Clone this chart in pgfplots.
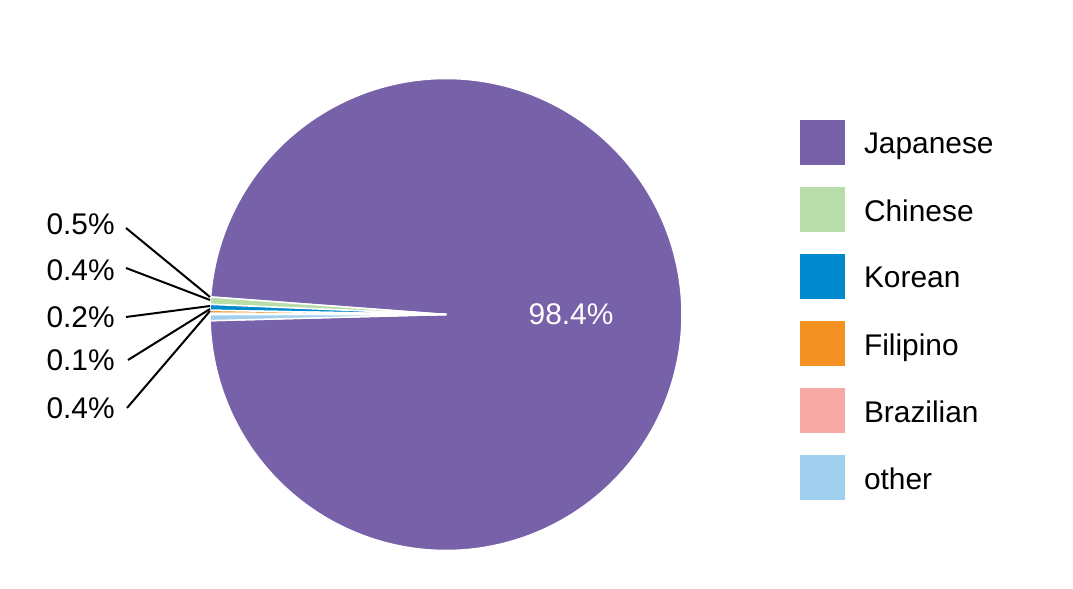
\documentclass[border=0pt]{standalone}
\usepackage{pgfplots}
\pgfplotsset{compat=1.18}
\usepackage{fontspec}
\setmainfont{Liberation Sans}
\definecolor{cJap}{RGB}{119,97,168}
\definecolor{cChi}{RGB}{184,221,168}
\definecolor{cKor}{RGB}{0,137,205}
\definecolor{cFil}{RGB}{243,146,34}
\definecolor{cBra}{RGB}{247,169,165}
\definecolor{cOth}{RGB}{160,208,238}
% shares in percent
\def\pJap{98.4}\def\pChi{0.5}\def\pKor{0.4}\def\pFil{0.2}\def\pBra{0.1}\def\pOth{0.4}
\pgfmathsetmacro{\aA}{181.5}
\pgfmathsetmacro{\aB}{\aA+\pJap*3.6}
\pgfmathsetmacro{\aC}{\aB+\pChi*3.6}
\pgfmathsetmacro{\aD}{\aC+\pKor*3.6}
\pgfmathsetmacro{\aE}{\aD+\pFil*3.6}
\pgfmathsetmacro{\aF}{\aE+\pBra*3.6}
\pgfmathsetmacro{\aG}{\aF+\pOth*3.6}
\newcommand{\bigfont}{\fontsize{30}{36}\selectfont}
\begin{document}
\begin{tikzpicture}
\path[use as bounding box] (0,0) rectangle (1073bp,589bp);
\begin{axis}[
  at={(0,0)}, anchor=south west,
  scale only axis, width=1073bp, height=589bp,
  xmin=0, xmax=1073, ymin=0, ymax=589,
  hide axis, clip=false,
  legend cell align=left,
  legend style={draw=none, fill=none, at={(axis cs:800,469)}, anchor=north west,
    inner sep=0pt, outer sep=0pt, row sep=22bp, column sep=19bp,
    font=\bigfont, nodes={inner sep=0pt}},
  legend image code/.code={\fill[#1, draw=none] (0bp,-21bp) rectangle (45bp,24bp);},
  every axis plot/.append style={line join=round},
]
\addplot[fill=cJap, draw=white, line width=1.5bp, domain=\aA:\aB, samples=300, variable=\t]
  ({446+236*cos(\t)},{274.5+236*sin(\t)}) -- (446,274.5) -- cycle;
\addlegendentry{Japanese}
\addplot[fill=cChi, draw=white, line width=1.5bp, domain=\aB:\aC, samples=5, variable=\t]
  ({446+236*cos(\t)},{274.5+236*sin(\t)}) -- (446,274.5) -- cycle;
\addlegendentry{Chinese}
\addplot[fill=cKor, draw=white, line width=1.5bp, domain=\aC:\aD, samples=5, variable=\t]
  ({446+236*cos(\t)},{274.5+236*sin(\t)}) -- (446,274.5) -- cycle;
\addlegendentry{Korean}
\addplot[fill=cFil, draw=white, line width=1.5bp, domain=\aD:\aE, samples=5, variable=\t]
  ({446+236*cos(\t)},{274.5+236*sin(\t)}) -- (446,274.5) -- cycle;
\addlegendentry{Filipino}
\addplot[fill=cBra, draw=white, line width=1.5bp, domain=\aE:\aF, samples=5, variable=\t]
  ({446+236*cos(\t)},{274.5+236*sin(\t)}) -- (446,274.5) -- cycle;
\addlegendentry{Brazilian}
\addplot[fill=cOth, draw=white, line width=1.5bp, domain=\aF:\aG, samples=5, variable=\t]
  ({446+236*cos(\t)},{274.5+236*sin(\t)}) -- (446,274.5) -- cycle;
\addlegendentry{other}
% leader lines and labels
\addplot[black, line width=2bp, forget plot] coordinates {(126,361) (210,292)}
  node[pos=0, anchor=east, xshift=-7bp, yshift=4bp, font=\bigfont]{0.5\%};
\addplot[black, line width=2bp, forget plot] coordinates {(126,321) (210,289)}
  node[pos=0, anchor=east, xshift=-7bp, yshift=-2bp, font=\bigfont]{0.4\%};
\addplot[black, line width=2bp, forget plot] coordinates {(126,272) (210,283)}
  node[pos=0, anchor=east, xshift=-7bp, font=\bigfont]{0.2\%};
\addplot[black, line width=2bp, forget plot] coordinates {(128,229) (210,280)}
  node[pos=0, anchor=east, xshift=-9bp, font=\bigfont]{0.1\%};
\addplot[black, line width=2bp, forget plot] coordinates {(127,181) (210,278)}
  node[pos=0, anchor=east, xshift=-8bp, font=\bigfont]{0.4\%};
\node[white, font=\bigfont] at (axis cs:571,274.5) {98.4\%};
\end{axis}
\end{tikzpicture}
\end{document}
